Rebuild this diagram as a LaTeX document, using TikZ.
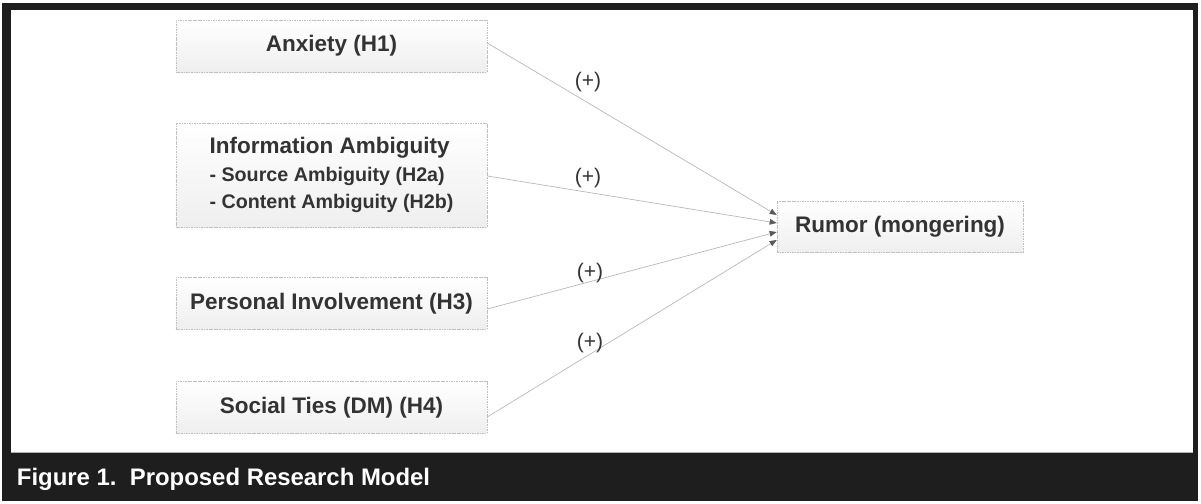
\documentclass[tikz,border=0pt]{standalone}
\usepackage{fontspec}
\setmainfont{Liberation Sans}
\usepackage{tikz}
\usetikzlibrary{arrows.meta,positioning,shadings}
\definecolor{framegray}{HTML}{1E1E1E}
\definecolor{textgray}{HTML}{333333}
\tikzset{
factor/.style={draw=gray!50, dash pattern=on 1.2pt off 0.6pt, top color=white, bottom color=gray!13, text=textgray, font=\fontsize{16}{18.4}\selectfont\bfseries, inner sep=0pt, minimum width=7.775cm, minimum height=1.3cm}, % the construct boxes
link/.style={draw=gray!55, line width=0.5pt, -{Triangle[length=5pt,width=4pt,color=gray!70!black]}}, % the hypothesis arrows
sign/.style={text=textgray, font=\fontsize{15}{17}\selectfont, inner sep=0pt}
}
\begin{document}
\begin{tikzpicture}[x=0.025cm,y=-0.025cm]
    \useasboundingbox (0,0) rectangle (1201,504);
    % frame and caption bar
    \fill [framegray] (2,3) rectangle (1198,501);
    \fill [white] (11,10) rectangle (1193,452);
    \draw [gray!60, line width=0.4pt] (11,452) -- (1193,452);
    \node [anchor=west, text=white, font=\fontsize{17}{20}\selectfont\bfseries] (caption) at (12,479) {Figure 1.\ \ Proposed Research Model};
    % constructs
    \node [factor] (anx) at (331.5,46) {Anxiety (H1)};
    \node [factor, minimum height=2.6cm, align=left] (amb) at (331.5,175) {Information Ambiguity\\[1.5pt]\fontsize{14}{18.4}\selectfont - Source Ambiguity (H2a)\\[0.5pt]\fontsize{14}{18.4}\selectfont - Content Ambiguity (H2b)};
    \node [factor] (inv) at (331.5,303.5) {Personal Involvement (H3)};
    \node [factor] (ties) at (331.5,407.5) {Social Ties (DM) (H4)};
    \node [factor, minimum width=6.15cm, minimum height=1.275cm] (rumor) at (900,226.5) {Rumor (mongering)};
    % hypotheses
    \draw [link] ([yshift=2.1pt]anx.east) -- ([yshift=8.2pt]rumor.west);
    \draw [link] ([yshift=-0.7pt]amb.east) -- ([yshift=2.5pt]rumor.west);
    \draw [link] ([yshift=-3.9pt]inv.east) -- ([yshift=-3.9pt]rumor.west);
    \draw [link] ([yshift=-6.7pt]ties.east) -- ([yshift=-9.6pt]rumor.west);
    \node [sign] (h1) at (588,82) {(+)};
    \node [sign] (h2) at (588,178) {(+)};
    \node [sign] (h3) at (590,273) {(+)};
    \node [sign] (h4) at (590,343) {(+)};
\end{tikzpicture}
\end{document}
